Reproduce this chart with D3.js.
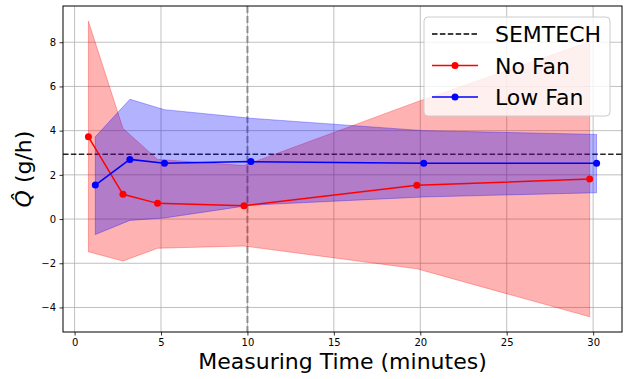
<!DOCTYPE html>
<html><head><meta charset="utf-8">
<script src="https://cdn.jsdelivr.net/npm/d3@7/dist/d3.min.js"></script>
<style>body{margin:0;background:#fff}svg{display:block;font-family:"DejaVu Sans",sans-serif}</style>
</head><body><svg id="c" width="628" height="379"></svg>
<script>
const noFanT = [0.8, 2.8, 4.8, 9.8, 19.8, 29.8];
const noFanQ = [3.72, 1.12, 0.71, 0.6, 1.53, 1.81];
const noFanLo = [-1.48, -1.9, -1.32, -1.22, -2.25, -4.42];
const noFanHi = [8.95, 4.1, 2.7, 2.42, 5.3, 8.02];
const lowFanT = [1.2, 3.2, 5.2, 10.2, 20.2, 30.2];
const lowFanQ = [1.54, 2.7, 2.52, 2.6, 2.52, 2.52];
const lowFanLo = [-0.7, -0.06, 0.05, 0.63, 1.0, 1.19];
const lowFanHi = [3.72, 5.42, 4.95, 4.56, 4.0, 3.83];
const semtech = 2.93;
const markerT = 10;
const xTicks = [0, 5, 10, 15, 20, 25, 30];
const yTicks = [-4, -2, 0, 2, 4, 6, 8];

const svg = d3.select("#c");
const L = 63, R = 622, T = 6, B = 332;
const x = d3.scaleLinear().domain([-0.67, 31.67]).range([L, R]);
const y = d3.scaleLinear().domain([-5.11, 9.64]).range([B, T]);

// grid
const g = svg.append("g");
g.selectAll(".gx").data(xTicks).join("line").attr("x1", d => x(d)).attr("x2", d => x(d))
  .attr("y1", T).attr("y2", B).attr("stroke", "#b0b0b0").attr("stroke-width", 0.8);
g.selectAll(".gy").data(yTicks).join("line").attr("y1", d => y(d)).attr("y2", d => y(d))
  .attr("x1", L).attr("x2", R).attr("stroke", "#b0b0b0").attr("stroke-width", 0.8);

// vertical marker
svg.append("line").attr("x1", x(markerT)).attr("x2", x(markerT)).attr("y1", T).attr("y2", B)
  .attr("stroke", "#808080").attr("stroke-width", 2).attr("stroke-dasharray", "7,3").attr("opacity", 0.8);

// semtech
svg.append("line").attr("x1", L).attr("x2", R).attr("y1", y(semtech)).attr("y2", y(semtech))
  .attr("stroke", "#000").attr("stroke-width", 1.5).attr("stroke-dasharray", "5.5,2.4").attr("opacity", 0.85);

function band(t, lo, hi, color) {
  const data = t.map((d, i) => ({t: d, lo: lo[i], hi: hi[i]}));
  const area = d3.area().x(d => x(d.t)).y0(d => y(d.lo)).y1(d => y(d.hi));
  svg.append("path").attr("d", area(data)).attr("fill", color).attr("fill-opacity", 0.3)
    .attr("stroke", color).attr("stroke-opacity", 0.3).attr("stroke-width", 1);
}
function series(t, q, color) {
  const data = t.map((d, i) => ({t: d, q: q[i]}));
  svg.append("path").attr("d", d3.line().x(d => x(d.t)).y(d => y(d.q))(data))
    .attr("fill", "none").attr("stroke", color).attr("stroke-width", 1.5);
  svg.selectAll(null).data(data).join("circle").attr("cx", d => x(d.t)).attr("cy", d => y(d.q))
    .attr("r", 3.5).attr("fill", color);
}
band(noFanT, noFanLo, noFanHi, "#ff0000");
band(lowFanT, lowFanLo, lowFanHi, "#0000ff");
series(noFanT, noFanQ, "#ff0000");
series(lowFanT, lowFanQ, "#0000ff");

// axes
const ax = svg.append("g").attr("transform", `translate(0,${B})`)
  .call(d3.axisBottom(x).tickValues(xTicks).tickSize(3.5).tickPadding(3.5).tickFormat(d3.format("d")));
const ay = svg.append("g").attr("transform", `translate(${L},0)`)
  .call(d3.axisLeft(y).tickValues(yTicks).tickSize(3.5).tickPadding(3.5).tickFormat(d => d < 0 ? "\u2212" + Math.abs(d) : d));
[ax, ay].forEach(a => {
  a.select(".domain").remove();
  a.selectAll("text").attr("font-size", 10).attr("font-family", "DejaVu Sans").attr("fill", "#000");
  a.selectAll("line").attr("stroke", "#000").attr("stroke-width", 0.8);
});
svg.append("rect").attr("x", L).attr("y", T).attr("width", R - L).attr("height", B - T)
  .attr("fill", "none").attr("stroke", "#000").attr("stroke-width", 1);

// labels
svg.append("text").attr("x", (L + R) / 2).attr("y", 369).attr("text-anchor", "middle")
  .attr("font-size", 22).text("Measuring Time (minutes)");
const yl = svg.append("text").attr("transform", `translate(31,${(T + B) / 2}) rotate(-90)`)
  .attr("text-anchor", "middle").attr("font-size", 22);
yl.append("tspan").attr("font-style", "italic").text("Q\u0302");
yl.append("tspan").text(" (g/h)");

// legend
const lg = svg.append("g");
lg.append("rect").attr("x", 424).attr("y", 17).attr("width", 186).attr("height", 99).attr("rx", 4)
  .attr("fill", "#fff").attr("fill-opacity", 0.8).attr("stroke", "#cccccc").attr("stroke-width", 1);
const items = [
  {label: "SEMTECH", color: "#000", dash: "5.5,2.4", marker: false},
  {label: "No Fan", color: "#ff0000", dash: null, marker: true},
  {label: "Low Fan", color: "#0000ff", dash: null, marker: true}
];
items.forEach((it, i) => {
  const yy = 34 + i * 31.5;
  lg.append("line").attr("x1", 432).attr("x2", 478).attr("y1", yy).attr("y2", yy)
    .attr("stroke", it.color).attr("stroke-width", 1.5).attr("stroke-dasharray", it.dash);
  if (it.marker) lg.append("circle").attr("cx", 455).attr("cy", yy).attr("r", 3.5).attr("fill", it.color);
  lg.append("text").attr("x", 495).attr("y", yy + 8).attr("font-size", 22).text(it.label);
});
</script></body></html>
